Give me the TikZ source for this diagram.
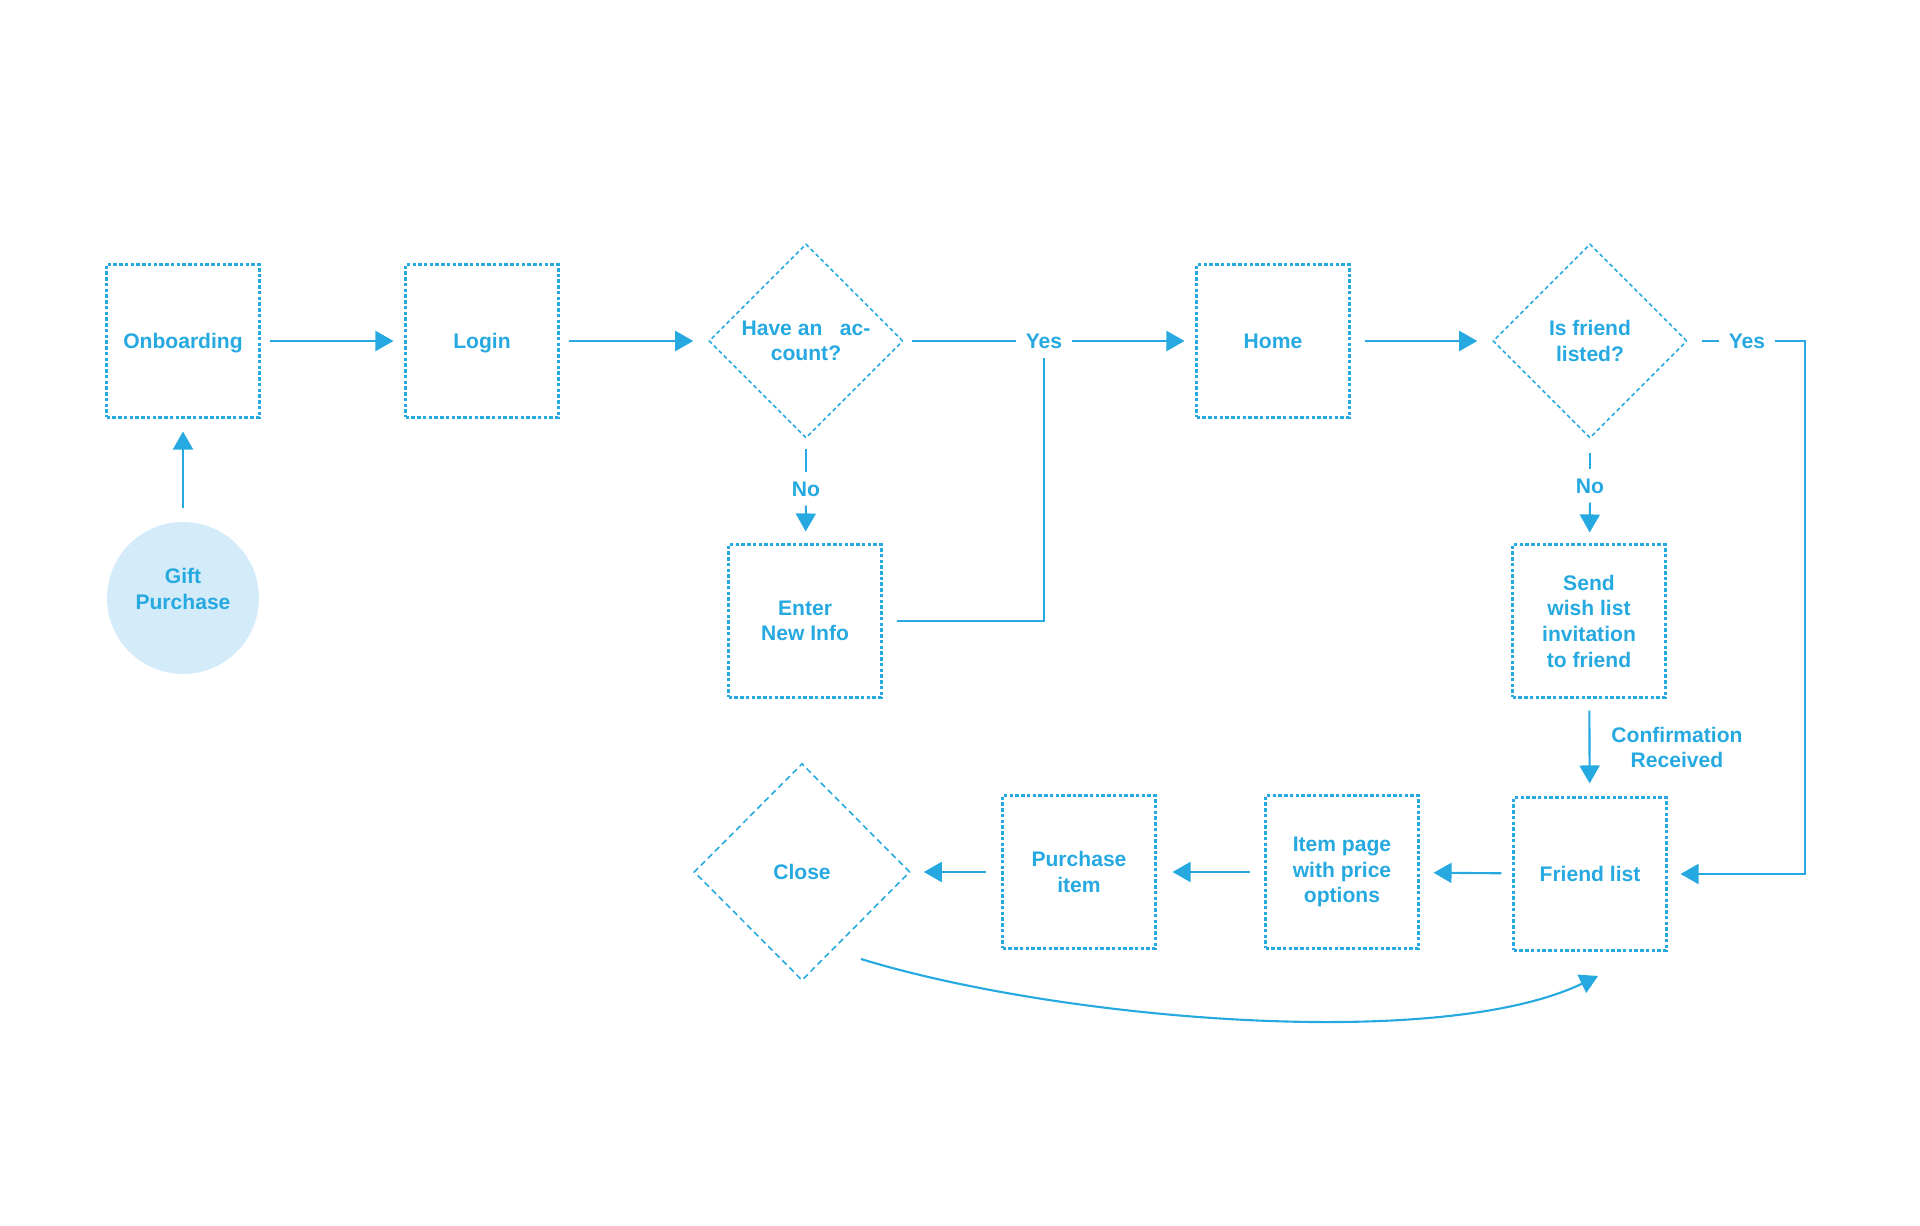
\documentclass[tikz,border=0pt]{standalone}
\usepackage{fontspec}
\setmainfont{Liberation Sans}
\usetikzlibrary{shapes.geometric,arrows.meta}
\definecolor{flowblue}{RGB}{38,169,224}
\definecolor{flowfill}{RGB}{212,235,249}

\begin{document}
\begin{tikzpicture}[x=0.02cm, y=-0.02cm,
    every node/.style={text=flowblue, align=center, font=\fontsize{12}{14.6}\selectfont\bfseries},
    screen/.style={draw=flowblue, line width=1.2pt, dash pattern=on 0.07cm off 0.045cm,
        minimum width=3.06cm, minimum height=3.06cm},
    choice/.style={diamond, draw=flowblue, line width=0.9pt, dash pattern=on 0.08cm off 0.06cm,
        minimum width=3.88cm, minimum height=3.88cm, inner sep=0pt},
    tag/.style={fill=white, inner sep=0.18cm},
    link/.style={draw=flowblue, line width=1.2pt},
    linkarrow/.style={link, -{Triangle[length=0.36cm,width=0.4cm]}}]

    \useasboundingbox (0,0) rectangle (1920,1226);

    % top row
    \node[screen, text depth=0pt] (onboard) at (183,341) {Onboarding};
    \node[screen, text depth=0pt] (login) at (482,341) {Login};
    \node[choice] (account) at (806,341) {Have an~~~ac-\\count?};
    \node[screen, text depth=0pt] (home) at (1273,341) {Home};
    \node[choice] (listed) at (1590,341) {Is friend\\listed?};

    % start
    \node[circle, fill=flowfill, minimum size=3.04cm, text depth=0.36cm] (gift) at (183,598) {Gift\\Purchase};

    % middle row
    \node[screen] (enter) at (805,621) {Enter\\New Info};
    \node[screen] (invite) at (1589,621) {Send\\wish list\\invitation\\to friend};

    % bottom row
    \node[screen, text depth=0pt] (friends) at (1590,874) {Friend list};
    \node[screen] (item) at (1342,872) {Item page\\with price\\options};
    \node[screen] (buy) at (1079,872) {Purchase\\item};
    \node[choice, dash pattern=on 0.12cm off 0.08cm, minimum width=4.32cm, minimum height=4.34cm] (close) at (802,872) {Close};

    % labels
    \node[tag] (yesA) at (1044,341) {Yes};
    \node[tag] (noA) at (806,489) {No};
    \node[tag] (yesB) at (1747,341) {Yes};
    \node[tag] (noB) at (1590,486) {No};
    \coordinate (rim) at (1805,874);
    \coordinate (loopA) at (861,959);
    \coordinate (loopB) at (1598,976);

    % connectors
    \draw[linkarrow, shorten <=0.28cm, shorten >=0.26cm] (gift) -- (onboard);
    \draw[linkarrow, shorten <=0.18cm, shorten >=0.22cm] (onboard) -- (login);
    \draw[linkarrow, shorten <=0.18cm, shorten >=0.3cm] (login) -- (account);
    \draw[link, shorten <=0.16cm] (account) -- (yesA);
    \draw[linkarrow, shorten >=0.22cm] (yesA) -- (home);
    \draw[link, shorten <=0.28cm] (enter.east) -| (yesA.south);
    \draw[link, shorten <=0.2cm] (account) -- (noA);
    \draw[linkarrow, shorten >=0.24cm] (noA) -- (enter);
    \draw[linkarrow, shorten <=0.28cm, shorten >=0.3cm] (home) -- (listed);
    \draw[link, shorten <=0.28cm] (listed) -- (yesB);
    \draw[linkarrow, shorten >=0.26cm] (yesB.east) -| (rim) -- (friends.east);
    \draw[link, shorten <=0.28cm] (listed) -- (noB);
    \draw[linkarrow, shorten >=0.22cm] (noB) -- (invite);
    \draw[linkarrow, shorten <=0.24cm, shorten >=0.26cm] (invite) -- node[anchor=west, xshift=0.3cm] {Confirmation\\Received} (friends);
    \draw[linkarrow, shorten <=0.22cm, shorten >=0.28cm] (friends) -- (item);
    \draw[linkarrow, shorten <=0.28cm, shorten >=0.32cm] (item) -- (buy);
    \draw[linkarrow, shorten <=0.3cm, shorten >=0.26cm] (buy) -- (close);
    \draw[linkarrow] (loopA) .. controls (1060,1020) and (1440,1052) .. (loopB);
\end{tikzpicture}
\end{document}
